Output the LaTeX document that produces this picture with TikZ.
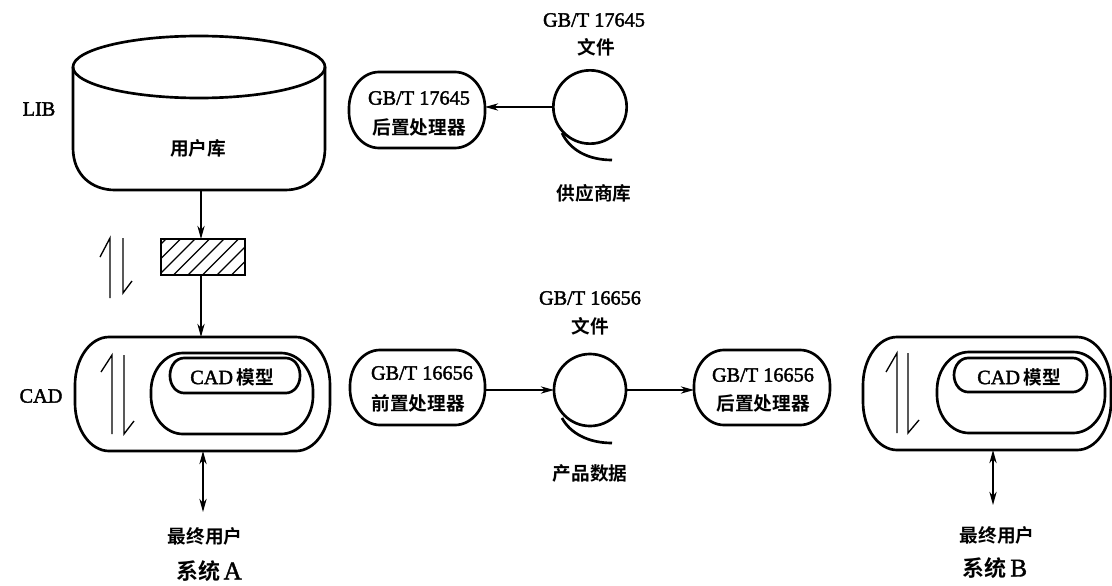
\documentclass[tikz,border=0pt]{standalone}
\usepackage{fontspec}
\setmainfont{Liberation Serif}
\newfontfamily\latf{Liberation Serif}
\newfontfamily\cjkf{Noto Sans CJK SC}[BoldFont={Noto Sans CJK SC Bold}]
\usetikzlibrary{arrows.meta,calc}
\newcommand{\heavy}[1]{\special{pdf:code q 2 Tr 0.3 w}#1\special{pdf:code Q}}
\newcommand{\lat}[1]{{\latf\fontsize{15.2pt}{18pt}\selectfont\heavy{#1}}}
\newcommand{\latb}[1]{{\latf\fontsize{19pt}{20pt}\selectfont\heavy{#1}}}
\newcommand{\han}[1]{{\cjkf\bfseries\fontsize{14pt}{18pt}\selectfont #1}}
\newcommand{\hanb}[1]{{\cjkf\bfseries\fontsize{16.5pt}{18pt}\selectfont #1}}
\tikzset{
  thick line/.style={line width=2pt},
  half/.style={line width=1pt},
  conn/.style={line width=1pt,-{Stealth[length=10pt,width=5.5pt]}},
  biconn/.style={line width=1pt,{Stealth[length=10pt,width=5.5pt]}-{Stealth[length=10pt,width=5.5pt]}},
  lbl/.style={inner sep=0pt,outer sep=0pt,align=center},
  anchorbox/.style={inner sep=0pt,outer sep=0pt}
}
% name, x1,y1,x2,y2, rx, ry : box with elliptical corners, and a named node over it
\newcommand{\rbox}[7]{%
  \pgfmathsetmacro{\xa}{#2}\pgfmathsetmacro{\ya}{#3}\pgfmathsetmacro{\xb}{#4}\pgfmathsetmacro{\yb}{#5}%
  \pgfmathsetmacro{\rx}{#6}\pgfmathsetmacro{\ry}{#7}%
  \pgfmathsetmacro{\cx}{0.45*\rx}\pgfmathsetmacro{\cy}{0.45*\ry}%
  \draw[thick line] (\xa+\rx,\ya) -- (\xb-\rx,\ya)
    .. controls (\xb-\cx,\ya) and (\xb,\ya+\cy) .. (\xb,\ya+\ry)
    -- (\xb,\yb-\ry)
    .. controls (\xb,\yb-\cy) and (\xb-\cx,\yb) .. (\xb-\rx,\yb)
    -- (\xa+\rx,\yb)
    .. controls (\xa+\cx,\yb) and (\xa,\yb-\cy) .. (\xa,\yb-\ry)
    -- (\xa,\ya+\ry)
    .. controls (\xa,\ya+\cy) and (\xa+\cx,\ya) .. (\xa+\rx,\ya) -- cycle;
  \node[anchorbox,minimum width={(\xb-\xa)*0.75pt},minimum height={(\yb-\ya)*0.75pt}] (#1) at ({(\xa+\xb)/2},{(\ya+\yb)/2}) {};%
}
\begin{document}
\begin{tikzpicture}[x=0.75pt,y=-0.75pt]
\useasboundingbox (0,0) rectangle (1112,585);
% cylinder
\draw[thick line] (73,67) -- (73,148) .. controls (73,175) and (92,190) .. (115,190)
  -- (285,190) .. controls (308,190) and (325,175) .. (325,148) -- (325,67);
\draw[thick line] (199,67) ellipse [x radius=126,y radius=31];
\node[anchorbox,minimum width=189pt,minimum height=93pt] (lib) at (199,128) {};
\coordinate (axis) at (201,200);
% hatched box
\begin{scope}
  \clip (161,239) rectangle (245,275);
  \foreach \i in {0,1,...,8} {
    \draw[line width=1pt] (130+14.5*\i,275) -- (166+14.5*\i,239);
  }
\end{scope}
\node[draw,thick line,anchorbox,minimum width=63pt,minimum height=27pt] (hatch) at (203,257) {};
% system A
\rbox{cadA}{75}{337}{330}{451}{34}{48}
\rbox{innerA}{151}{353}{313}{434}{32}{38}
\rbox{modelA}{170}{358}{300}{393}{14}{17}
% system B
\rbox{cadB}{863}{337}{1111}{450}{34}{48}
\rbox{innerB}{937}{352}{1105}{433}{32}{38}
\rbox{modelB}{954}{358}{1087}{392}{14}{17}
% processors
\rbox{post17645}{349}{72}{485}{148}{30}{36}
\rbox{pre16656}{350}{350}{485}{425}{30}{36}
\rbox{post16656}{694}{350}{830}{425}{30}{36}
% reels
\node[draw,thick line,circle,anchorbox,minimum size=55pt] (reelA) at (590,107) {};
\node[draw,thick line,circle,anchorbox,minimum size=54pt] (reelB) at (590,390) {};
\draw[thick line] (562,133) .. controls (570,150) and (588,160) .. (612,160);
\draw[thick line] (562,418) .. controls (570,433) and (588,443) .. (612,443);
% half arrows
\draw[half] (110,298) -- (110,238) -- (100,257);
\draw[half] (123,238) -- (123,293) -- (132,281);
\draw[half] (112,434) -- (112,355) -- (101,372);
\draw[half] (124,355) -- (124,434) -- (134,421);
\draw[half] (897,433) -- (897,353) -- (886,372);
\draw[half] (908,353) -- (908,433) -- (919,420);
% connectors
\draw[conn] (lib.south -| axis) -- (hatch.north -| axis);
\draw[conn] (hatch.south -| axis) -- (cadA.north -| axis);
\draw[conn] (reelA.west) -- (reelA.west -| post17645.east);
\draw[conn] (reelB.west -| pre16656.east) -- (reelB.west);
\draw[conn] (reelB.east) -- (reelB.east -| post16656.west);
\coordinate (endA) at (203,512);
\coordinate (endB) at (993,505);
\draw[biconn] (cadA.south -| endA) -- (endA);
\draw[biconn] (cadB.south -| endB) -- (endB);
% labels
\node[lbl] (tLib) at (39,109) {\lat{LIB}};
\node[lbl] (tUser) at (198,148) {\han{用户库}};
\node[lbl] (tCad) at (41,396) {\lat{CAD}};
\node[lbl] (tModelA) at (232,377) {\lat{CAD} \han{模型}};
\node[lbl] (tModelB) at (1019,377) {\lat{CAD} \han{模型}};
\node[lbl] (t1) at (594,20) {\lat{GB/T 17645}};
\node[lbl] (t2) at (596,47) {\han{文件}};
\node[lbl] (t3) at (594,193) {\han{供应商库}};
\node[lbl] (t4) at (419,98) {\lat{GB/T 17645}};
\node[lbl] (t5) at (419,127) {\han{后置处理器}};
\node[lbl] (t6) at (590,298) {\lat{GB/T 16656}};
\node[lbl] (t7) at (590,326) {\han{文件}};
\node[lbl] (t8) at (590,473) {\han{产品数据}};
\node[lbl] (t9) at (422,373) {\lat{GB/T 16656}};
\node[lbl] (t10) at (418,403) {\han{前置处理器}};
\node[lbl] (t11) at (763,375) {\lat{GB/T 16656}};
\node[lbl] (t12) at (763,403) {\han{后置处理器}};
\node[lbl] (t13) at (205,536) {\han{最终用户}};
\node[lbl] (t14) at (209,571) {\hanb{系统} \latb{A}};
\node[lbl] (t15) at (997,535) {\han{最终用户}};
\node[lbl] (t16) at (995,568) {\hanb{系统} \latb{B}};
\end{tikzpicture}
\end{document}
